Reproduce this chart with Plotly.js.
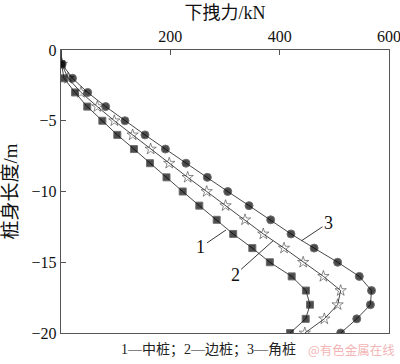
<!DOCTYPE html>
<html>
<head>
<meta charset="utf-8">
<script src="https://cdn.plot.ly/plotly-3.0.1.min.js"></script>
<style>html,body{margin:0;padding:0;background:#fff;}#chart{width:400px;height:364px;}</style>
</head>
<body>
<div id="chart"></div>
<script>
// Data
var depth = [0, -1, -2, -3, -4, -5, -6, -7, -8, -9, -10, -11, -12, -13, -14, -15, -16, -17, -18, -19, -20];
var pile1 = [0, 1, 5.5, 25.6, 48, 75.6, 103, 133.5, 162.8, 193, 222.6, 253, 284.8, 315, 350, 382, 422, 448, 455.5, 447.6, 419];
var pile2 = [0, 1.5, 13, 36.6, 66.4, 97.5, 131, 164, 198, 231.7, 266.5, 301, 336.6, 370, 408, 443, 480, 511.6, 506, 481.7, 446];
var pile3 = [0, 2, 21, 48.8, 81.7, 117, 153.6, 191, 228.6, 267.7, 305, 344, 383.6, 420.7, 463, 506, 545.7, 568, 566, 541, 511.6];
var xTicks = [200, 400, 600];
var yTicks = [0, -5, -10, -15, -20];
var legendText = '1—中桩；2—边桩；3—角桩';
var watermark = '@有色金属在线';

var serif = 'Liberation Serif, Times New Roman, Noto Sans CJK SC, serif';
function sizes(s){ return depth.map(function(d,i){ return i === 0 ? 0 : s; }); }

var lineStyle = {color: '#333', width: 0.9};
var traces = [
  {x: pile1, y: depth, mode: 'lines+markers', line: lineStyle,
   marker: {symbol: 'square', size: sizes(7), color: '#000'}},
  {x: pile2, y: depth, mode: 'lines+markers', line: lineStyle,
   marker: {symbol: 'star-open', size: sizes(8.5), color: '#333', line: {width: 0.8, color: '#333'}}},
  {x: pile3, y: depth, mode: 'lines+markers', line: lineStyle,
   marker: {symbol: 'circle', size: sizes(8), color: '#000'}}
];

var layout = {
  width: 400, height: 364,
  margin: {l: 61, r: 11, t: 50, b: 31},
  paper_bgcolor: '#fff', plot_bgcolor: '#fff',
  showlegend: false,
  font: {family: serif, color: '#111', size: 16},
  xaxis: {
    side: 'top', range: [0, 600], tickvals: xTicks, ticks: 'inside', ticklen: 5,
    tickcolor: '#555', showline: true, linecolor: '#555', linewidth: 1.3, mirror: true,
    showgrid: false, zeroline: false, tickfont: {size: 16, family: serif},
    ticklabeloverflow: 'allow',
    title: {text: '下拽力/kN', font: {size: 18, family: serif}, standoff: 4}
  },
  yaxis: {
    range: [-20, 0], tickvals: yTicks, ticks: 'inside', ticklen: 5,
    tickcolor: '#555', showline: true, linecolor: '#555', linewidth: 1.3, mirror: true,
    showgrid: false, zeroline: false, tickfont: {size: 16, family: serif},
    ticklabeloverflow: 'allow',
    title: {text: '桩身长度/m', font: {size: 19, family: serif}, standoff: 9}
  },
  annotations: [
    {x: 301.8, y: -12.72, xref: 'x', yref: 'y', text: '1', showarrow: true, arrowhead: 0,
     arrowwidth: 0.9, arrowcolor: '#222', ax: -25, ay: 17, font: {size: 18, family: serif, color: '#111'}},
    {x: 388, y: -13.48, xref: 'x', yref: 'y', text: '2', showarrow: true, arrowhead: 0,
     arrowwidth: 0.9, arrowcolor: '#222', ax: -38, ay: 34, font: {size: 18, family: serif, color: '#111'}},
    {x: 440, y: -13.48, xref: 'x', yref: 'y', text: '3', showarrow: true, arrowhead: 0,
     arrowwidth: 0.9, arrowcolor: '#222', ax: 27, ay: -18, font: {size: 18, family: serif, color: '#111'}},
    {x: (208 - 61) / 328, y: -(349 - 333) / 283, xref: 'paper', yref: 'paper', xanchor: 'center', yanchor: 'middle',
     text: legendText, showarrow: false, font: {size: 14, family: serif, color: '#222'}},
    {x: (351 - 61) / 328, y: -(349 - 333) / 283, xref: 'paper', yref: 'paper', xanchor: 'center', yanchor: 'middle',
     text: watermark, showarrow: false, font: {size: 12.5, family: 'Noto Sans CJK SC, sans-serif', color: '#f2b6b6'}}
  ]
};

Plotly.newPlot('chart', traces, layout, {displayModeBar: false, staticPlot: true});
</script>
</body>
</html>
